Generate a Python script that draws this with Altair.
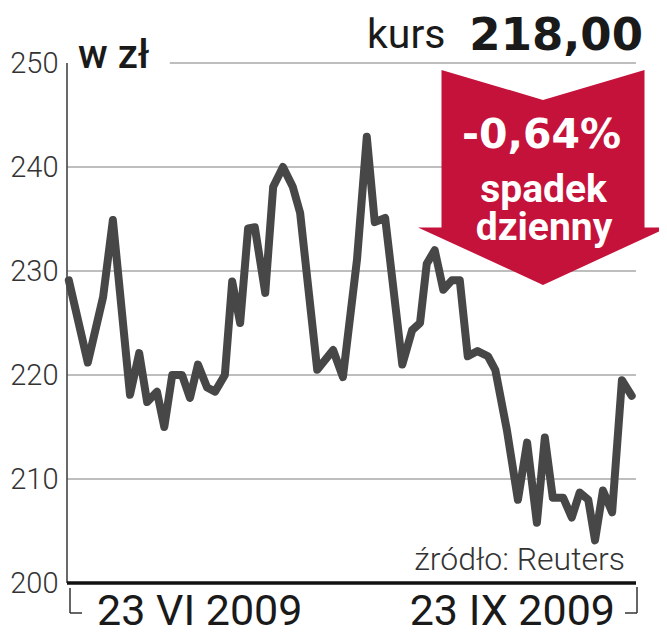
import altair as alt
import pandas as pd

# ---- data ----
days = [0.3, 3.4, 5.9, 7.5, 10.3, 11.8, 13.1, 14.7, 15.9, 17.2,
        18.8, 20.1, 21.4, 22.9, 24.2, 25.8, 27.0, 28.3, 29.6, 30.7,
        32.4, 33.7, 35.3, 36.9, 38.1, 40.9, 43.5, 45.1, 47.4, 49.0,
        50.3, 52.0, 54.8, 56.4, 57.7, 58.8, 60.1, 61.5, 62.9, 64.2,
        65.5, 67.1, 68.8, 70.0, 71.9, 73.7, 75.2, 76.8, 78.1, 79.4,
        81.1, 82.5, 83.8, 85.2, 86.3, 87.6, 89.1, 90.7, 92.3]
prices = [229.1, 221.2, 227.5, 234.9, 218.1, 222.1, 217.4, 218.4, 215.0, 220.0,
          220.0, 217.8, 221.0, 218.8, 218.4, 220.0, 229.0, 225.0, 234.1, 234.2,
          227.9, 238.1, 240.0, 238.1, 235.6, 220.5, 222.4, 219.8, 231.1, 242.9,
          234.7, 235.1, 221.0, 224.3, 225.0, 230.7, 232.0, 228.2, 229.1, 229.1,
          221.8, 222.3, 221.8, 220.5, 214.7, 208.0, 213.5, 205.8, 214.0, 208.2,
          208.2, 206.3, 208.7, 208.0, 204.1, 208.9, 206.8, 219.5, 218.0]

y_ticks = [200, 210, 220, 230, 240, 250]
grid_vals = [210, 220, 230, 240, 250]
grid_start = [0, 0, 0, 0, 16.8]
x_domain = [0, 93]

title_unit = "w zł"
kurs_label = "kurs"
kurs_value = "218,00"
change_lines = ["-0,64%", "spadek", "dzienny"]
source = "źródło: Reuters"
x_start_label = "23 VI 2009"
x_end_label = "23 IX 2009"

# arrow annotation anchor (in data units)
arrow_day = 77.8
arrow_price = 239.0
ARROW_PATH = "M-0.812,-0.86L0,-0.62L0.812,-0.86L0.812,0.4L1,0.4L0,0.86L-1,0.4L-0.812,0.4Z"

line_df = pd.DataFrame({"day": days, "price": prices})
grid_df = pd.DataFrame({"price": grid_vals, "start": grid_start, "end": [x_domain[1]] * len(grid_vals)})
one = pd.DataFrame({"k": [0]})

xs = alt.Scale(domain=x_domain, nice=False, zero=False)
ys = alt.Scale(domain=[200, 250], nice=False, zero=False)
y_axis = alt.Axis(values=y_ticks, domain=False, ticks=False, grid=False,
                  labelFont="Roboto", labelFontWeight=300, labelFontSize=29,
                  labelColor="#333333", labelPadding=9, title=None,
                  labelBaseline="middle")

GREY_TXT = "#2a2a2a"

grid = alt.Chart(grid_df).mark_rule(color="#a8a8a8", strokeWidth=1.5).encode(
    x=alt.X("start:Q", scale=xs, axis=None),
    x2="end:Q",
    y=alt.Y("price:Q", scale=ys, axis=y_axis),
)

yaxis_line = alt.Chart(one).mark_rule(color="#444444", strokeWidth=1.6).encode(
    x=alt.value(0), y=alt.value(0), y2=alt.value(520)
)

price_line = alt.Chart(line_df).mark_line(
    color="#474747", strokeWidth=8, strokeJoin="round", strokeCap="round"
).encode(
    x=alt.X("day:Q", scale=xs, axis=None),
    y=alt.Y("price:Q", scale=ys, axis=y_axis),
)

xaxis_line = alt.Chart(one).mark_rule(color="#111111", strokeWidth=3.5).encode(
    x=alt.value(0), x2=alt.value(569), y=alt.value(520)
)

arrow = alt.Chart(pd.DataFrame({"day": [arrow_day], "price": [arrow_price]})).mark_point(
    shape=ARROW_PATH, size=62500, filled=True, color="#c5123a", opacity=1, strokeWidth=0
).encode(
    x=alt.X("day:Q", scale=xs, axis=None),
    y=alt.Y("price:Q", scale=ys, axis=y_axis),
)

def txt(text, x, y, size, font="Roboto", weight=400, align="left", color=GREY_TXT):
    return alt.Chart(pd.DataFrame({"t": [text]})).mark_text(
        font=font, fontSize=size, fontWeight=weight, align=align,
        baseline="alphabetic", color=color
    ).encode(text="t:N", x=alt.value(x), y=alt.value(y))

texts = [
    txt(title_unit, 11, 5, 40, weight=500, color="#1a1a1a"),
    txt(kurs_label, 300, -15, 41, color="#1a1a1a"),
    txt(kurs_value, 576, -13, 45, font="DejaVu Sans", weight="bold", align="right", color="#1a1a1a"),
    txt(change_lines[0], 474.5, 85, 41, font="DejaVu Sans", weight="bold", align="center", color="white"),
    txt(change_lines[1], 476.5, 138.7, 39, weight="bold", align="center", color="white"),
    txt(change_lines[2], 477, 177, 39, weight="bold", align="center", color="white"),
    txt(source, 558, 507, 32, weight=300, align="right", color="#333333"),
    txt(x_start_label, 30, 562, 43, color="#1a1a1a"),
    txt(x_end_label, 548, 562, 43, align="right", color="#1a1a1a"),
]

def seg(x1, y1, x2, y2):
    return alt.Chart(one).mark_rule(color="#333333", strokeWidth=1.5).encode(
        x=alt.value(x1), y=alt.value(y1), x2=alt.value(x2), y2=alt.value(y2)
    )

brackets = [
    seg(3, 525, 3, 550), seg(3, 550, 15, 550),
    seg(570, 524, 570, 550), seg(558, 550, 570, 550),
]

chart = alt.layer(
    grid, yaxis_line, price_line, xaxis_line, arrow, *texts, *brackets
).properties(
    width=569, height=520,
    padding={"left": 59, "top": 55, "right": 23, "bottom": 45},
    autosize=alt.AutoSizeParams(type="none"),
    background="white",
).configure_view(stroke=None)

chart.save("out.html", embed_options={"renderer": "svg", "actions": False})
